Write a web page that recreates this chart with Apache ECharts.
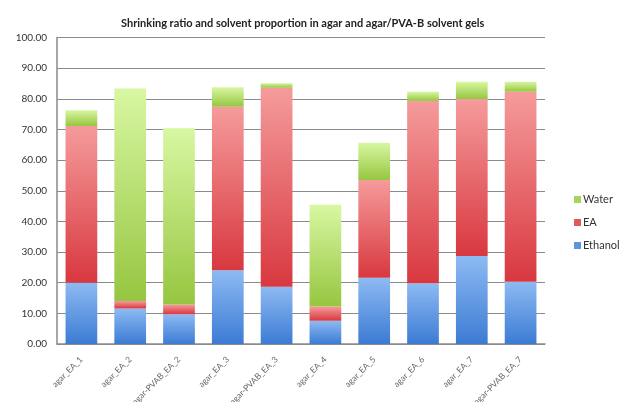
<!DOCTYPE html>
<html>
<head>
<meta charset="utf-8">
<script src="https://cdn.jsdelivr.net/npm/echarts@6/dist/echarts.min.js"></script>
<style>
  html, body { margin: 0; padding: 0; background: #fff; }
  #chart { width: 624px; height: 402px; }
</style>
</head>
<body>
<div id="chart"></div>
<script>
// Sample names along the x axis
const categories = [
  'agar_EA_1', 'agar_EA_2', 'agar-PVAB_EA_2', 'agar_EA_3', 'agar-PVAB_EA_3',
  'agar_EA_4', 'agar_EA_5', 'agar_EA_6', 'agar_EA_7', 'agar-PVAB_EA_7'
];
// Solvent proportions, stacked bottom to top
const ethanol = [20.0, 11.6, 9.7, 24.1, 18.7, 7.6, 21.6, 19.8, 28.7, 20.3];
const ea      = [51.1, 2.4, 3.2, 53.3, 64.9, 4.6, 31.9, 59.5, 51.2, 62.0];
const water   = [5.2, 69.4, 57.5, 6.4, 1.5, 33.2, 12.2, 3.0, 5.7, 3.3];
const yTicks  = { min: 0, max: 100, interval: 10 };

const FONT = 'Lato, "Open Sans", sans-serif';

function grad(top, bottom) {
  return new echarts.graphic.LinearGradient(0, 0, 0, 1, [
    { offset: 0, color: top },
    { offset: 1, color: bottom }
  ]);
}

function barSeries(name, data, top, bottom) {
  return {
    name: name,
    type: 'bar',
    stack: 'total',
    barWidth: '65%',
    data: data,
    itemStyle: { color: grad(top, bottom) },
    emphasis: { disabled: true }
  };
}

const chart = echarts.init(document.getElementById('chart'), null, { renderer: 'canvas' });
chart.setOption({
  animation: false,
  backgroundColor: '#ffffff',
  title: {
    text: 'Shrinking ratio and solvent proportion in agar and agar/PVA-B solvent gels',
    left: 116,
    top: 13,
    textStyle: { fontFamily: FONT, fontSize: 11, fontWeight: 'bold', color: '#222' }
  },
  legend: {
    orient: 'vertical',
    left: 569,
    top: 189,
    itemWidth: 7,
    itemHeight: 7,
    itemGap: 12,
    icon: 'rect',
    data: [
      { name: 'Water', itemStyle: { color: '#a9d45a' } },
      { name: 'EA', itemStyle: { color: '#e0595d' } },
      { name: 'Ethanol', itemStyle: { color: '#5f95df' } }
    ],
    textStyle: { fontFamily: FONT, fontSize: 11, color: '#333', padding: [0, 0, 0, -3] }
  },
  grid: {
    left: 57, right: 79, top: 37.5, bottom: 58,
    containLabel: false,
    outerBoundsMode: 'none'
  },
  xAxis: {
    type: 'category',
    data: categories,
    axisLine: { lineStyle: { color: '#8a8a8a', width: 1.5 } },
    axisTick: { show: false },
    axisLabel: {
      interval: 0,
      rotate: 45,
      margin: 14,
      fontFamily: FONT,
      fontSize: 8.5,
      color: '#666'
    }
  },
  yAxis: {
    type: 'value',
    min: yTicks.min,
    max: yTicks.max,
    interval: yTicks.interval,
    axisLine: { show: true, lineStyle: { color: '#8a8a8a', width: 1.5 } },
    axisTick: { show: false },
    splitLine: { lineStyle: { color: '#8a8a8a', width: 1 } },
    axisLabel: {
      margin: 10,
      fontFamily: FONT,
      fontSize: 10,
      color: '#333',
      formatter: v => v.toFixed(2)
    }
  },
  series: [
    barSeries('Ethanol', ethanol, '#8dbaf2', '#3c7bd4'),
    barSeries('EA', ea, '#f59b9b', '#d8383f'),
    barSeries('Water', water, '#d8f7a2', '#96c640')
  ]
});
</script>
</body>
</html>
